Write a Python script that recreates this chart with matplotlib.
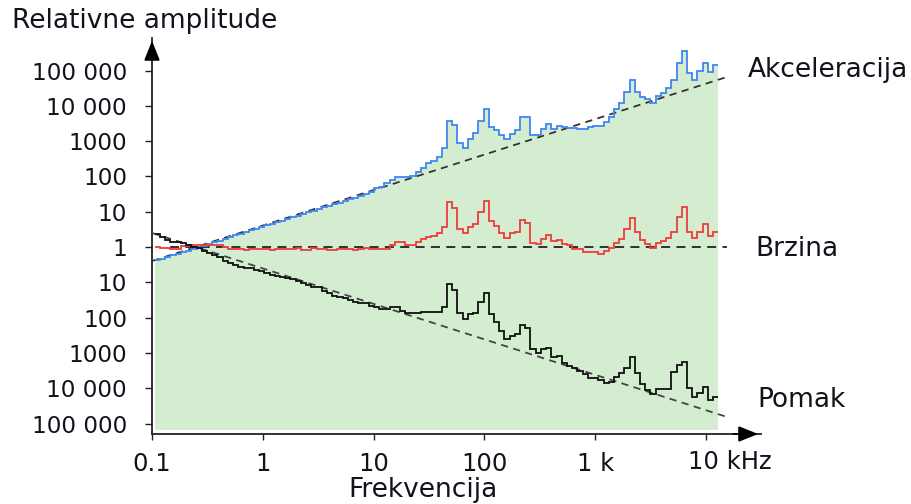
import matplotlib
matplotlib.use("Agg")
import matplotlib.pyplot as plt
import numpy as np

# frekvencijski pojasevi (log razmak), od ~0.106 Hz do ~12.9 kHz
f_start = 0.106
f_end = 12900
n_bins = 108

# relativne amplitude, zapisane kao eksponent (10**x), ocitano sa slike
akc_exp = [
    -0.38, -0.33, -0.29, -0.24, -0.19, -0.14, -0.10, -0.05, 0.00, 0.04,
    0.09, 0.14, 0.18, 0.23, 0.28, 0.33, 0.37, 0.42, 0.47, 0.51,
    0.56, 0.61, 0.65, 0.70, 0.75, 0.79, 0.84, 0.89, 0.93, 0.98,
    1.03, 1.08, 1.12, 1.17, 1.22, 1.26, 1.31, 1.36, 1.40, 1.45,
    1.50, 1.57, 1.66, 1.70, 1.80, 1.90, 1.99, 1.99, 1.99, 2.00,
    2.13, 2.23, 2.37, 2.44, 2.56, 2.80, 3.57, 3.46, 2.95, 2.80,
    3.06, 3.23, 3.57, 3.91, 3.40, 3.31, 3.17, 3.06, 3.20, 3.31,
    3.68, 3.68, 3.17, 3.17, 3.34, 3.48, 3.34, 3.43, 3.40, 3.37,
    3.37, 3.34, 3.34, 3.40, 3.43, 3.43, 3.54, 3.68, 3.91, 4.08,
    4.39, 4.73, 4.39, 4.25, 4.19, 4.08, 4.28, 4.36, 4.50, 4.73,
    5.21, 5.55, 4.93, 4.73, 4.99, 5.21, 4.96, 5.16,
]

brz_exp = [
    0.01, -0.04, -0.04, -0.05, -0.05, 0.03, 0.03, 0.05, 0.06, 0.06,
    0.06, 0.06, 0.06, 0.00, -0.07, -0.07, -0.05, -0.08, -0.07, -0.07,
    -0.05, -0.07, -0.08, -0.07, -0.06, -0.07, -0.06, -0.02, -0.085, -0.085,
    -0.04, -0.06, -0.06, -0.085, -0.085, -0.06, -0.06, -0.06, -0.085, -0.06,
    -0.02, -0.06, -0.06, -0.06, -0.06, 0.06, 0.15, 0.15, 0.06, 0.06,
    0.15, 0.22, 0.27, 0.30, 0.40, 0.58, 1.27, 1.10, 0.52, 0.39,
    0.57, 0.66, 1.00, 1.29, 0.74, 0.59, 0.40, 0.25, 0.39, 0.43,
    0.76, 0.69, 0.12, 0.08, 0.22, 0.33, 0.17, 0.20, 0.085, 0.06,
    -0.07, -0.07, -0.13, -0.13, -0.13, -0.20, -0.10, -0.04, 0.12, 0.22,
    0.50, 0.83, 0.43, 0.20, 0.08, -0.04, 0.12, 0.18, 0.26, 0.43,
    0.84, 1.14, 0.43, 0.26, 0.43, 0.64, 0.31, 0.43,
]

pom_exp = [
    0.36, 0.27, 0.20, 0.14, 0.14, 0.11, 0.06, 0.01, -0.04, -0.11,
    -0.18, -0.23, -0.29, -0.39, -0.46, -0.51, -0.56, -0.60, -0.60, -0.65,
    -0.68, -0.75, -0.78, -0.82, -0.84, -0.89, -0.92, -0.96, -1.02, -1.08,
    -1.12, -1.14, -1.25, -1.29, -1.38, -1.42, -1.45, -1.50, -1.55, -1.58,
    -1.60, -1.67, -1.69, -1.77, -1.77, -1.71, -1.71, -1.80, -1.88, -1.88,
    -1.86, -1.84, -1.84, -1.85, -1.84, -1.69, -1.05, -1.22, -1.88, -2.05,
    -1.90, -1.88, -1.57, -1.31, -1.91, -2.12, -2.38, -2.61, -2.52, -2.46,
    -2.21, -2.30, -2.90, -3.01, -2.90, -2.87, -3.11, -3.08, -3.28, -3.37,
    -3.44, -3.52, -3.60, -3.70, -3.70, -3.77, -3.84, -3.82, -3.67, -3.58,
    -3.42, -3.12, -3.56, -3.89, -4.05, -4.17, -4.03, -4.03, -4.03, -3.53,
    -3.35, -3.27, -4.00, -4.24, -4.13, -3.97, -4.33, -4.26,
]

# isprekidani pravci (krajnje tocke)
akc_trend_f = [0.1, 14800]
akc_trend = [0.40, 63000]
brz_trend_f = [0.145, 15500]
brz_trend = [1.0, 1.0]
pom_trend_f = [0.1, 14800]
pom_trend = [2.5, 1.6e-5]

y_ticks = [1e5, 1e4, 1e3, 1e2, 1e1, 1, 1e-1, 1e-2, 1e-3, 1e-4, 1e-5]
y_labels = ["100 000", "10 000", "1000", "100", "10", "1", "10", "100", "1000", "10 000", "100 000"]
x_ticks = [0.1, 1, 10, 100, 1000, 10000]
x_labels = ["0.1", "1", "10", "100", "1 k", ""]

edges = np.geomspace(f_start, f_end, n_bins + 1)
akc = 10 ** np.array(akc_exp)
brz = 10 ** np.array(brz_exp)
pom = 10 ** np.array(pom_exp)

W, H = 912, 504
fig = plt.figure(figsize=(W / 100, H / 100), dpi=100)
# granice osi u pikselima slike
ax = fig.add_axes([152 / W, 1 - 434 / H, (761 - 152) / W, (434 - 38) / H])

txt_col = "#12121c"
ax_col = "#222222"

ax.set_xscale("log")
ax.set_yscale("log")
ax.set_xlim(0.1, 10 ** 4.496)
ax.set_ylim(10 ** -5.297, 10 ** 5.921)

# zelena povrsina ispod akceleracije
ax.stairs(akc, edges, fill=True, baseline=10 ** -5.18, color="#d4edd1", zorder=1)

ax.plot(akc_trend_f, akc_trend, color="#333333", lw=1.3, ls=(0, (4, 3)), zorder=3)
ax.plot(brz_trend_f, brz_trend, color="#222222", lw=1.3, ls=(0, (5, 3.5)), zorder=3)
ax.plot(pom_trend_f, pom_trend, color="#444444", lw=1.3, ls=(0, (4, 3)), zorder=3)

ax.stairs(akc, edges, color="#3f86f4", lw=1.3, baseline=None, zorder=4)
ax.stairs(brz, edges, color="#f03c3c", lw=1.3, baseline=None, zorder=4)
ax.stairs(pom, edges, color="#101010", lw=1.3, baseline=None, zorder=4)

for s in ["top", "right"]:
    ax.spines[s].set_visible(False)
for s in ["left", "bottom"]:
    ax.spines[s].set_color(ax_col)
    ax.spines[s].set_linewidth(1.3)

ax.set_yticks(y_ticks)
ax.set_yticklabels(y_labels)
ax.set_xticks(x_ticks)
ax.set_xticklabels(x_labels)
ax.minorticks_off()
ax.tick_params(axis="y", length=5, width=1, color=ax_col, pad=13, labelsize=16.7, labelcolor=txt_col)
ax.tick_params(axis="x", length=4, width=1, color=ax_col, pad=9, labelsize=17.5, labelcolor=txt_col)

# strelice na krajevima osi
arrow = "-|>,head_length=0.75,head_width=0.3"
ax.annotate("", xy=(0, 1), xycoords="axes fraction", xytext=(0, 0.95),
            arrowprops=dict(arrowstyle=arrow, color="black", lw=1.3, mutation_scale=16))
ax.annotate("", xy=(1, 0), xycoords="axes fraction", xytext=(0.95, 0),
            arrowprops=dict(arrowstyle=arrow, color="black", lw=1.3, mutation_scale=16))

# tekstovi
ax.text(10 ** 3.84, -0.07, "10 kHz", transform=ax.get_xaxis_transform(),
        ha="left", va="center", fontsize=17.5, color=txt_col)
fig.text(12 / W, 1 - 21 / H, "Relativne amplitude", fontsize=19, color=txt_col, va="center", ha="left")
fig.text(423 / W, 1 - 490 / H, "Frekvencija", fontsize=19, color=txt_col, va="center", ha="center")
fig.text(748 / W, 1 - 70 / H, "Akceleracija", fontsize=19, color=txt_col, va="center", ha="left")
fig.text(755 / W, 1 - 249 / H, "Brzina", fontsize=19, color=txt_col, va="center", ha="left")
fig.text(757 / W, 1 - 400 / H, "Pomak", fontsize=19, color=txt_col, va="center", ha="left")

fig.savefig("out.png", dpi=100)
